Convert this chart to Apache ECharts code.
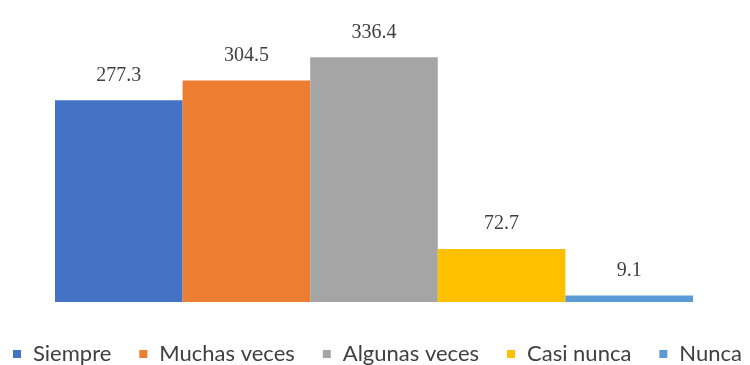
<!DOCTYPE html>
<html>
<head>
<meta charset="utf-8">
<script src="https://cdn.jsdelivr.net/npm/echarts@6/dist/echarts.min.js"></script>
<style>
  html, body { margin: 0; padding: 0; background: #fff; }
  #chart { width: 750px; height: 365px; }
</style>
</head>
<body>
<div id="chart"></div>
<script>
// Frequency responses, one bar per answer option
const categories = ['Siempre', 'Muchas veces', 'Algunas veces', 'Casi nunca', 'Nunca'];
const values = [277.3, 304.5, 336.4, 72.7, 9.1];
const colors = ['#4472C4', '#ED7D31', '#A5A5A5', '#FFC000', '#5B9BD5'];

const chart = echarts.init(document.getElementById('chart'), null, { renderer: 'canvas' });

const series = categories.map((name, i) => ({
  name: name,
  type: 'bar',
  data: [values[i]],
  barGap: '0%',
  barCategoryGap: '0%',
  itemStyle: { color: colors[i] },
  label: {
    show: true,
    position: 'top',
    distance: 15,
    fontFamily: 'Liberation Serif',
    fontSize: 20,
    color: '#404040',
    formatter: p => p.value.toFixed(1)
  }
}));

chart.setOption({
  animation: false,
  grid: { left: 55, right: 57, top: 11, bottom: 63 },
  xAxis: {
    type: 'category',
    data: [''],
    axisLine: { show: false },
    axisTick: { show: false },
    axisLabel: { show: false }
  },
  yAxis: {
    type: 'value',
    min: 0,
    max: 400,
    show: false,
    splitLine: { show: false }
  },
  legend: {
    data: categories,
    left: 13,
    top: 343,
    padding: 0,
    itemWidth: 8,
    itemHeight: 8,
    itemGap: 28,
    icon: 'rect',
    textStyle: {
      fontFamily: 'Lato',
      fontSize: 22,
      color: '#404040',
      padding: [0, 0, 0, 7]
    }
  },
  series: series
});
</script>
</body>
</html>
